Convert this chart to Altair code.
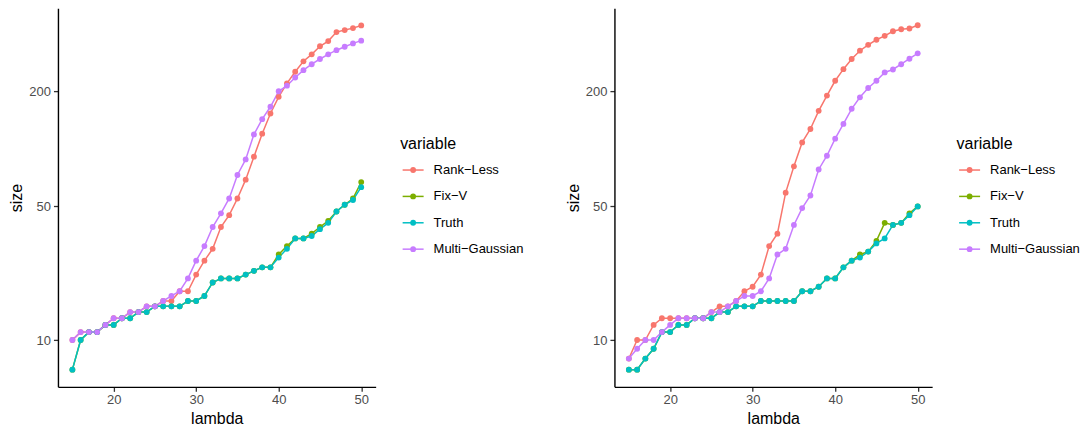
import altair as alt
import pandas as pd

# ---------------- data ----------------
lam = list(range(15, 51))
series = ["Rank−Less", "Fix−V", "Truth", "Multi−Gaussian"]
colors = ["#F8766D", "#7CAE00", "#00BFC4", "#C77CFF"]

L_rank = [10, 11, 11, 11, 12, 13, 13, 14, 14, 15, 15, 16, 16, 18, 18, 22, 26, 30, 39, 45,
          55, 69, 91, 120, 153, 187, 220, 253, 287, 312, 344, 366, 408, 418, 428, 442]
L_fix = [7, 10, 11, 11, 12, 12, 13, 13, 14, 14, 15, 15, 15, 15, 16, 16, 17, 20, 21, 21,
         21, 22, 23, 24, 24, 28, 31, 34, 34, 36, 39, 42, 47, 51, 55, 67]
L_truth = [7, 10, 11, 11, 12, 12, 13, 13, 14, 14, 15, 15, 15, 15, 16, 16, 17, 20, 21, 21,
           21, 22, 23, 24, 24, 27, 30, 34, 34, 35, 38, 41, 47, 51, 54, 63]
L_multi = [10, 11, 11, 11, 12, 13, 13, 14, 14, 15, 15, 16, 17, 18, 21, 26, 31, 39, 46, 55,
           73, 88, 119, 143, 166, 200, 214, 236, 258, 277, 295, 312, 328, 342, 356, 368]

R_rank = [8, 10, 10, 12, 13, 13, 13, 13, 13, 13, 14, 15, 15, 16, 18, 19, 22, 31, 36, 59,
          81, 108, 127, 158, 190, 227, 261, 295, 326, 350, 372, 390, 412, 422, 426, 443]
R_fix = [7, 7, 8, 9, 11, 11, 12, 12, 13, 13, 13, 14, 14, 15, 15, 15, 16, 16, 16, 16,
         16, 18, 18, 19, 21, 21, 24, 26, 28, 29, 33, 41, 40, 41, 46, 50]
R_truth = [7, 7, 8, 9, 11, 11, 12, 12, 13, 13, 13, 14, 14, 15, 15, 15, 16, 16, 16, 16,
           16, 18, 18, 19, 21, 21, 24, 26, 27, 29, 32, 34, 40, 41, 45, 50]
R_multi = [8, 9, 10, 10, 11, 12, 13, 13, 13, 13, 14, 14, 15, 16, 17, 17, 18, 21, 28, 30,
           40, 49, 57, 78, 92, 113, 135, 162, 186, 208, 227, 251, 260, 277, 296, 316]

x_ticks = [20, 30, 40, 50]
y_ticks = [10, 50, 200]

FONT = "Liberation Sans"
PW, PH = 318, 379


def panel_df(vals):
    rows = []
    for si, (name, v) in enumerate(zip(series, vals)):
        for l, s in zip(lam, v):
            rows.append({"lambda": l, "size": s, "variable": name, "ord": si})
    return pd.DataFrame(rows)


color = alt.Color("variable:N", scale=alt.Scale(domain=series, range=colors), legend=None)


def panel(vals):
    df = panel_df(vals)
    base = alt.Chart(df).encode(
        x=alt.X("lambda:Q",
                scale=alt.Scale(domain=[13.25, 51.75], nice=False, zero=False),
                axis=alt.Axis(values=x_ticks, title="lambda", labelPadding=2,
                              titlePadding=4)),
        y=alt.Y("size:Q",
                scale=alt.Scale(type="log", domain=[5.69, 544], nice=False),
                axis=alt.Axis(values=y_ticks, title="size", labelPadding=3,
                              titlePadding=4)),
        color=color,
    )
    lines = base.mark_line(strokeWidth=1.5)
    pts = base.mark_circle(size=34, opacity=1)
    return alt.layer(lines, pts).properties(width=PW, height=PH)


leg_df = pd.DataFrame({"variable": series, "idx": list(range(len(series)))})
title_df = pd.DataFrame({"t": ["variable"]})


def legend_view(w, label_x):
    yenc = alt.Y("idx:Q", scale=alt.Scale(domain=[-6.136, 8.22], reverse=True,
                                          nice=False, zero=False), axis=None)
    b = alt.Chart(leg_df).encode(y=yenc, color=color)
    rule = b.mark_rule(strokeWidth=1.5).encode(x=alt.value(27), x2=alt.value(48))
    dot = b.mark_circle(size=34, opacity=1).encode(x=alt.value(37.5))
    txt = alt.Chart(leg_df).mark_text(
        align="left", baseline="middle", fontSize=13, font=FONT, color="black"
    ).encode(x=alt.value(label_x), y=yenc, text="variable:N")
    ttl = alt.Chart(title_df).mark_text(
        align="left", baseline="middle", fontSize=16, font=FONT, color="black"
    ).encode(x=alt.value(24.5), y=alt.value(135.5), text="t:N")
    return alt.layer(rule, dot, txt, ttl).properties(width=w, height=PH)


chart = alt.hconcat(
    panel([L_rank, L_fix, L_truth, L_multi]),
    legend_view(189, 58),
    panel([R_rank, R_fix, R_truth, R_multi]),
    legend_view(120, 58),
    spacing=0,
).properties(
    padding={"left": 0, "top": 0, "right": 0, "bottom": 0}
).configure_view(stroke=None).configure_axis(
    grid=False,
    domainColor="black",
    domainWidth=1.4,
    tickColor="#333333",
    tickWidth=1.3,
    tickSize=4.5,
    labelColor="#4D4D4D",
    labelFont=FONT,
    labelFontSize=13,
    titleFont=FONT,
    titleFontSize=16,
    titleFontWeight="normal",
    titleColor="black",
)

chart.save("out.html", embed_options={"renderer": "svg", "actions": False})
